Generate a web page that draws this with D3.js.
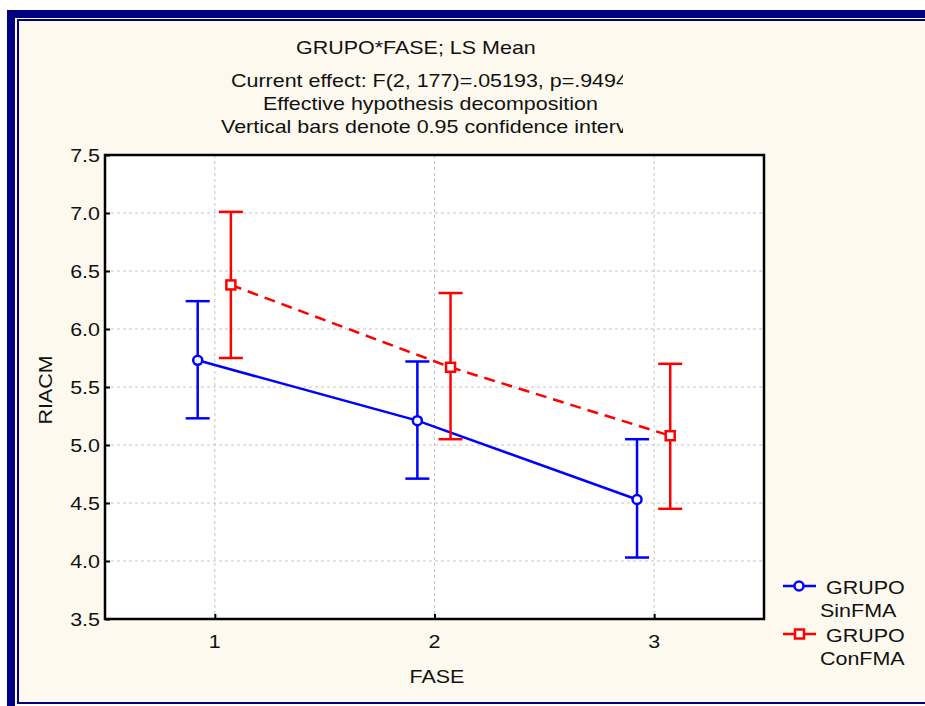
<!DOCTYPE html>
<html>
<head>
<meta charset="utf-8">
<script src="https://cdn.jsdelivr.net/npm/d3@7"></script>
<style>
	body { margin: 0; background: #ffffff; }
	svg text { font-family: "Liberation Sans", Arial, sans-serif; font-size: 19px; fill: #111111; }
</style>
</head>
<body>
<svg id="chart" width="925" height="706"></svg>
<script>
// data
var fases = [1, 2, 3];
var faseLabels = ["1", "2", "3"];
var yTicks = [3.5, 4.0, 4.5, 5.0, 5.5, 6.0, 6.5, 7.0, 7.5];

var sinMean = [5.73, 5.21, 4.53];
var sinLow = [5.23, 4.71, 4.03];
var sinHigh = [6.24, 5.72, 5.05];

var conMean = [6.38, 5.67, 5.08];
var conLow = [5.75, 5.05, 4.45];
var conHigh = [7.01, 6.31, 5.70];

var titleLines = [
	"GRUPO*FASE; LS Mean",
	"Current effect: F(2, 177)=.05193, p=.9494",
	"Effective hypothesis decomposition",
	"Vertical bars denote 0.95 confidence intervals"
];

var svg = d3.select("#chart");
var stretch = 1.13;
var lw = 2.5;

function addText(parent, str, x, y, anchor) {
	var t = parent.append("text")
	.attr("transform", "translate(" + x + "," + y + ") scale(" + stretch + ",1)")
	.style("text-anchor", anchor || "start")
	.text(str);
	return t;
}

// frame
svg.append("rect").attr("x", 7).attr("y", 10).attr("width", 1000).attr("height", 1000).style("fill", "#000080");
svg.append("rect").attr("x", 15).attr("y", 18).attr("width", 1000).attr("height", 688).style("fill", "#ffffff");
svg.append("rect").attr("x", 17).attr("y", 19).attr("width", 1000).attr("height", 685).style("fill", "#000080");
svg.append("rect").attr("x", 19).attr("y", 21).attr("width", 1000).attr("height", 681).style("fill", "#fdf9ef");

// titles, clipped on the right like the original
svg.append("clipPath").attr("id", "titleClip")
.append("rect").attr("x", 0).attr("y", 0).attr("width", 623).attr("height", 150);

var titles = svg.append("g").attr("clip-path", "url(#titleClip)");
var titleX = [296, 231, 263, 221];
var titleY = [54, 87, 110, 133];
titleLines.forEach(function (s, i) {
	addText(titles, s, titleX[i], titleY[i]);
});

var plotLeft = 105, plotRight = 764, plotTop = 155, plotBottom = 619;

var x = d3.scaleLinear().domain([0.5, 3.5]).range([plotLeft, plotRight]);
var y = d3.scaleLinear().domain([3.5, 7.5]).range([plotBottom, plotTop]);

svg.append("rect")
.attr("x", plotLeft).attr("y", plotTop)
.attr("width", plotRight - plotLeft).attr("height", plotBottom - plotTop)
.style("fill", "#ffffff");

// grid
svg.selectAll(".hgrid").data(yTicks.slice(1, -1)).enter()
.append("line")
.attr("x1", plotLeft).attr("x2", plotRight)
.attr("y1", function (d) { return y(d); })
.attr("y2", function (d) { return y(d); })
.style("stroke", "#c4c4c4")
.style("stroke-dasharray", "3,3");

svg.selectAll(".vgrid").data(fases).enter()
.append("line")
.attr("x1", function (d) { return x(d); })
.attr("x2", function (d) { return x(d); })
.attr("y1", plotTop).attr("y2", plotBottom)
.style("stroke", "#c4c4c4")
.style("stroke-dasharray", "3,3");

// axes
var yAxis = d3.axisLeft(y).tickValues(yTicks).tickSizeInner(-5).tickSizeOuter(0).tickFormat(d3.format(".1f"));
var xAxis = d3.axisBottom(x).tickValues(fases).tickSizeInner(-5).tickSizeOuter(0).tickFormat(function (d, i) { return faseLabels[i]; });

var gy = svg.append("g").attr("transform", "translate(" + plotLeft + ",0)").call(yAxis);
var gx = svg.append("g").attr("transform", "translate(0," + plotBottom + ")").call(xAxis);
[gx, gy].forEach(function (g) {
	g.select(".domain").remove();
	g.selectAll("line").style("stroke", "#000").style("stroke-width", 2);
	g.selectAll("text").remove();
});

yTicks.forEach(function (v) {
	addText(svg, d3.format(".1f")(v), 100, y(v) + 7, "end");
});
fases.forEach(function (v, i) {
	addText(svg, faseLabels[i], x(v), 648, "middle");
});

svg.append("rect")
.attr("x", plotLeft).attr("y", plotTop)
.attr("width", plotRight - plotLeft).attr("height", plotBottom - plotTop)
.style("fill", "none")
.style("stroke", "#000")
.style("stroke-width", 2.5);

addText(svg, "FASE", 437, 683, "middle");
svg.append("text")
.attr("transform", "translate(52,390) rotate(-90) scale(" + stretch + ",1)")
.style("text-anchor", "middle")
.text("RIACM");

// series
var series = [
	{ mean: sinMean, low: sinLow, high: sinHigh, color: "#0000ff", shift: -0.078, dash: null, shape: "circle" },
	{ mean: conMean, low: conLow, high: conHigh, color: "#ff0000", shift: 0.073, dash: "11,7", shape: "square" }
];

series.forEach(function (s) {
	var pts = fases.map(function (f, i) {
		return { x: f + s.shift, m: s.mean[i], lo: s.low[i], hi: s.high[i] };
	});

	var line = d3.line()
	.x(function (d) { return x(d.x); })
	.y(function (d) { return y(d.m); });

	svg.append("path")
	.datum(pts)
	.attr("d", line)
	.style("fill", "none")
	.style("stroke", s.color)
	.style("stroke-width", lw)
	.style("stroke-dasharray", s.dash);

	var bars = svg.append("g");
	pts.forEach(function (d) {
		bars.append("line")
		.attr("x1", x(d.x)).attr("x2", x(d.x))
		.attr("y1", y(d.lo)).attr("y2", y(d.hi))
		.style("stroke", s.color).style("stroke-width", lw);
		[d.lo, d.hi].forEach(function (v) {
			bars.append("line")
			.attr("x1", x(d.x) - 12).attr("x2", x(d.x) + 12)
			.attr("y1", y(v)).attr("y2", y(v))
			.style("stroke", s.color).style("stroke-width", lw);
		});
	});

	pts.forEach(function (d) {
		if (s.shape == "circle") {
			svg.append("circle")
			.attr("cx", x(d.x)).attr("cy", y(d.m)).attr("r", 4.5)
			.style("fill", "#fff").style("stroke", s.color).style("stroke-width", lw);
		} else {
			svg.append("rect")
			.attr("x", x(d.x) - 4.5).attr("y", y(d.m) - 4.5)
			.attr("width", 9).attr("height", 9)
			.style("fill", "#fff").style("stroke", s.color).style("stroke-width", lw);
		}
	});
});

// legend
var legend = svg.append("g");
var legendY = [586, 634];
var legendNames = [["GRUPO", "SinFMA"], ["GRUPO", "ConFMA"]];
series.forEach(function (s, i) {
	legend.append("line")
	.attr("x1", 783).attr("x2", 816)
	.attr("y1", legendY[i]).attr("y2", legendY[i])
	.style("stroke", s.color).style("stroke-width", lw);
	if (s.shape == "circle") {
		legend.append("circle")
		.attr("cx", 799).attr("cy", legendY[i]).attr("r", 4.5)
		.style("fill", "#fff").style("stroke", s.color).style("stroke-width", lw);
	} else {
		legend.append("rect")
		.attr("x", 795).attr("y", legendY[i] - 4.5).attr("width", 9).attr("height", 9)
		.style("fill", "#fff").style("stroke", s.color).style("stroke-width", lw);
	}
	addText(legend, legendNames[i][0], 826, legendY[i] + 8);
	addText(legend, legendNames[i][1], 820, legendY[i] + 31);
});
</script>
</body>
</html>
